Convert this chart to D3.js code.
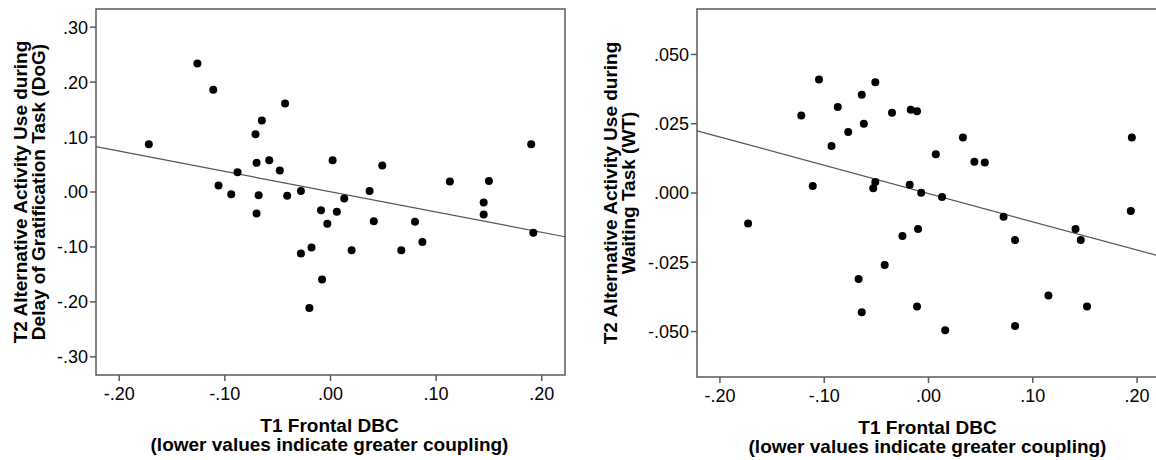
<!DOCTYPE html>
<html>
<head>
<meta charset="utf-8">
<script src="https://cdn.jsdelivr.net/npm/d3@7"></script>
<style>
  body { margin: 0; background: #fff; }
  svg { display: block; font-family: "Liberation Sans", Arial, sans-serif; }
  .tick-label { font-size: 18px; fill: #000; }
  .axis-title { font-size: 19px; font-weight: bold; fill: #000; }
</style>
</head>
<body>
<svg id="chart" width="1156" height="460"></svg>
<script>
// left panel: Delay of Gratification
var dogX = [-0.172, -0.126, -0.111, -0.106, -0.094, -0.088, -0.071, -0.070, -0.070, -0.068, -0.065,
            -0.058, -0.048, -0.043, -0.041, -0.028, -0.028, -0.018, -0.020, -0.009, -0.008, 0.002,
            0.006, -0.003, 0.013, 0.020, 0.037, 0.041, 0.049, 0.067, 0.080, 0.087, 0.113, 0.145,
            0.145, 0.150, 0.190, 0.192];
var dogY = [0.087, 0.234, 0.186, 0.012, -0.004, 0.036, 0.105, 0.053, -0.039, -0.006, 0.130,
            0.058, 0.039, 0.161, -0.007, 0.002, -0.112, -0.101, -0.211, -0.033, -0.159, 0.058,
            -0.036, -0.058, -0.012, -0.106, 0.002, -0.053, 0.048, -0.106, -0.054, -0.091, 0.019, -0.019,
            -0.041, 0.020, 0.087, -0.074];
var dogFit = [0.0005, -0.369];   // intercept, slope
var dogYTicks = [0.30, 0.20, 0.10, 0.00, -0.10, -0.20, -0.30];

// right panel: Waiting Task
var wtX = [-0.173, -0.122, -0.111, -0.105, -0.093, -0.087, -0.077, -0.067, -0.064, -0.064, -0.062,
           -0.053, -0.051, -0.051, -0.042, -0.035, -0.025, -0.018, -0.017, -0.011, -0.010, -0.011,
           -0.007, 0.007, 0.013, 0.016, 0.033, 0.044, 0.054, 0.072, 0.083, 0.083, 0.115, 0.141,
           0.146, 0.152, 0.194, 0.195];
var wtY = [-0.011, 0.028, 0.0025, 0.041, 0.017, 0.031, 0.022, -0.031, 0.0355, -0.043, 0.025,
           0.0017, 0.004, 0.040, -0.026, 0.029, -0.0155, 0.003, 0.030, 0.0295, -0.013, -0.041,
           0.0001, 0.014, -0.0014, -0.0495, 0.020, 0.0113, 0.011, -0.0086, -0.017, -0.048, -0.037, -0.013,
           -0.017, -0.041, -0.0065, 0.020];
var wtFit = [-0.0002, -0.102];
var wtYTicks = [0.050, 0.025, 0.000, -0.025, -0.050];

var xTicks = [-0.20, -0.10, 0.00, 0.10, 0.20];
var xTitle = ["T1 Frontal DBC", "(lower values indicate greater coupling)"];

var svg = d3.select("#chart");

// SPSS style labels: no leading zero, plain hyphen
function spssFmt(digits) {
    return function(v) {
        var s = Math.abs(v).toFixed(digits).replace(/^0/, "");
        return (v < -1e-9 ? "-" : "") + s;
    };
}

function drawPanel(opt) {
    var x = d3.scaleLinear().domain([-0.222, 0.222]).range([opt.left, opt.right]);
    var y = d3.scaleLinear().domain([-opt.yMax, opt.yMax]).range([opt.bottom, opt.top]);
    var g = svg.append("g");

    // frame
    g.append("rect")
        .attr("x", opt.left).attr("y", opt.top)
        .attr("width", opt.right - opt.left).attr("height", opt.bottom - opt.top)
        .attr("fill", "none").attr("stroke", "#5a5a5a").attr("stroke-width", 1.5);

    // y ticks
    var yt = g.selectAll(".yt").data(opt.yTicks).enter().append("g");
    yt.append("line")
        .attr("x1", opt.left - 6).attr("x2", opt.left)
        .attr("y1", function(d) { return y(d); }).attr("y2", function(d) { return y(d); })
        .attr("stroke", "#5a5a5a").attr("stroke-width", 1.5);
    yt.append("text")
        .attr("class", "tick-label")
        .attr("x", opt.left - 8)
        .attr("y", function(d) { return y(d); })
        .attr("dy", "0.36em")
        .attr("text-anchor", "end")
        .text(spssFmt(opt.yDigits));

    // x ticks
    var xt = g.selectAll(".xt").data(xTicks).enter().append("g");
    xt.append("line")
        .attr("x1", function(d) { return x(d); }).attr("x2", function(d) { return x(d); })
        .attr("y1", opt.bottom).attr("y2", opt.bottom + 6)
        .attr("stroke", "#5a5a5a").attr("stroke-width", 1.5);
    xt.append("text")
        .attr("class", "tick-label")
        .attr("x", function(d) { return x(d); })
        .attr("y", opt.bottom + 25)
        .attr("text-anchor", "middle")
        .text(spssFmt(2));

    // fit line across full x domain
    var xd = x.domain();
    g.append("line")
        .attr("x1", x(xd[0])).attr("y1", y(opt.fit[0] + opt.fit[1] * xd[0]))
        .attr("x2", x(xd[1])).attr("y2", y(opt.fit[0] + opt.fit[1] * xd[1]))
        .attr("stroke", "#555").attr("stroke-width", 1.2);

    // points
    g.selectAll(".pt").data(opt.xs).enter().append("circle")
        .attr("cx", function(d) { return x(d); })
        .attr("cy", function(d, i) { return y(opt.ys[i]); })
        .attr("r", 4)
        .attr("fill", "#000");

    // axis titles
    var cx = (opt.left + Math.min(opt.right, 1156)) / 2;
    if (opt.right > 1156) cx = (opt.left + opt.right) / 2;
    g.selectAll(".xtitle").data(xTitle).enter().append("text")
        .attr("class", "axis-title")
        .attr("x", x(0) - 1)
        .attr("y", function(d, i) { return opt.bottom + 57 + i * 19; })
        .attr("text-anchor", "middle")
        .text(function(d) { return d; });

    var cy = (opt.top + opt.bottom) / 2;
    g.selectAll(".ytitle").data(opt.yTitle).enter().append("text")
        .attr("class", "axis-title")
        .attr("transform", function(d, i) { return "translate(" + (opt.titleX + i * 18) + "," + cy + ") rotate(-90)"; })
        .attr("text-anchor", "middle")
        .text(function(d) { return d; });
}

drawPanel({
    left: 96, right: 565, top: 9, bottom: 375,
    yMax: 0.333, yTicks: dogYTicks, yDigits: 2,
    xs: dogX, ys: dogY, fit: dogFit,
    titleX: 27,
    yTitle: ["T2 Alternative Activity Use during", "Delay of Gratification Task (DoG)"]
});

drawPanel({
    left: 697, right: 1160, top: 9, bottom: 377,
    yMax: 0.0664, yTicks: wtYTicks, yDigits: 3,
    xs: wtX, ys: wtY, fit: wtFit,
    titleX: 617,
    yTitle: ["T2 Alternative Activity Use during", "Waiting Task (WT)"]
});
</script>
</body>
</html>
